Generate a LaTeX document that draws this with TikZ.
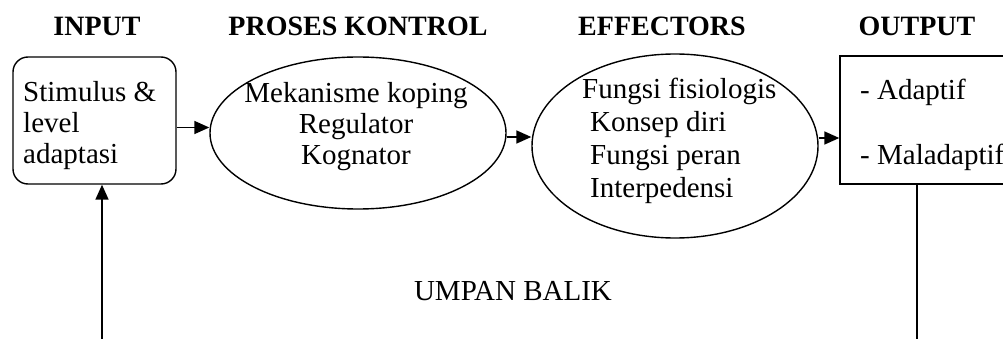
\documentclass[tikz,border=0pt]{standalone}
\usepackage{fontspec}
\setmainfont{Liberation Serif}
\usetikzlibrary{shapes.geometric, arrows.meta, positioning}

\begin{document}
\begin{tikzpicture}[x=1pt, y=-1pt,
  txt/.style={font=\fontsize{29}{31}\selectfont, inner sep=0pt},
  head/.style={font=\fontsize{28}{31}\selectfont\bfseries, inner sep=0pt, anchor=base},
  oval/.style={draw, ellipse, line width=1.4pt, inner sep=0pt},
  conn/.style={line width=1.7pt, -{Triangle[length=15pt, width=13pt]}},
]
\useasboundingbox (0,0) rectangle (1003,339);

% Headings
\node[head] (hin) at (97, 36) {INPUT};
\node[head] (hproc) at (358, 36) {PROSES KONTROL};
\node[head] (heff) at (662, 36) {EFFECTORS};
\node[head] (hout) at (917, 36) {OUTPUT};

% Boxes and ovals
\node[draw, line width=1.4pt, rounded corners=15pt, minimum width=163pt, minimum height=127pt] (input) at (94.5, 120.5) {};
\node[oval, minimum width=296pt, minimum height=152pt] (proses) at (358, 133) {};
\node[oval, minimum width=286pt, minimum height=184pt] (effectors) at (675, 146) {};
\node[draw, line width=1.4pt, minimum width=170pt, minimum height=128pt] (output) at (925, 120) {};

% Texts inside
\node[txt, align=left, anchor=north west] (tin) at (23, 81) {Stimulus \&\\level\\adaptasi};
\node[txt, align=center, anchor=north] (tproc) at (356, 82) {Mekanisme koping\\Regulator\\Kognator};
\node[txt, font=\fontsize{29}{33}\selectfont, align=left, anchor=north west] (teff) at (582, 78)
  {Fungsi fisiologis\\\hspace*{8pt}Konsep diri\\\hspace*{8pt}Fungsi peran\\\hspace*{8pt}Interpedensi};
\node[txt, anchor=base west] (adapt) at (860, 100) {- Adaptif};
\node[txt, anchor=base west] (malad) at (860, 165) {- Maladaptif};

% Arrows
\draw[conn] ([yshift=-7pt]input.east) -- ([yshift=-7pt]input.east -| proses.west);
\draw[conn] ([yshift=-4pt]proses.east) -- ([yshift=-4pt]proses.east -| effectors.west);
\draw[conn] ([yshift=8pt]effectors.east) -- ([yshift=8pt]effectors.east -| output.west);

% Feedback
\coordinate (fbR) at (917, 339);
\coordinate (fbL) at (102, 339);
\draw[line width=1.4pt] (fbR |- output.south) -- (fbR);
\draw[conn] (fbL) -- (fbL |- input.south);
\node[txt, anchor=base] (umpan) at (513, 300) {UMPAN BALIK};
\end{tikzpicture}
\end{document}
